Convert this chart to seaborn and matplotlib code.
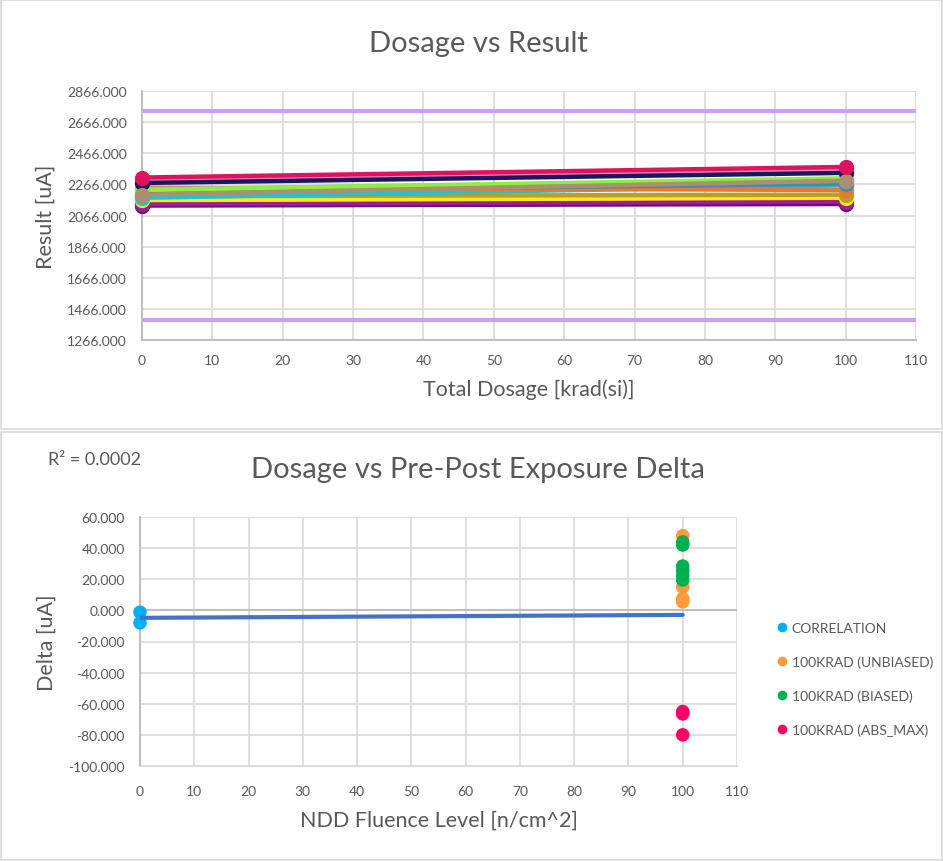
import numpy as np
import pandas as pd
import matplotlib
matplotlib.use("Agg")
import matplotlib.pyplot as plt
import seaborn as sns
from matplotlib.patches import Rectangle
from matplotlib.lines import Line2D

# ---------------- data ----------------
doses = [0, 100]
unit_names = ["U01", "U02", "U03", "U04", "U05", "U06", "U07",
              "U08", "U09", "U10", "U11", "U12", "U13"]
result_pre = [2130, 2140, 2165, 2190, 2180, 2245, 2220, 2235, 2230, 2300, 2275, 2200, 2310]
result_post = [2140, 2155, 2180, 2200, 2260, 2230, 2270, 2290, 2305, 2360, 2340, 2290, 2378]
unit_colors = ["#6E0C78", "#9C1C9C", "#FFE81A", "#B8A020", "#1EC4D4", "#E87A2C", "#3C8CB4",
               "#B4A0D8", "#8CF03C", "#F08CB4", "#1C1660", "#A89070", "#E0115F"]
upper_limit = 2736
lower_limit = 1396

groups = ["CORRELATION", "100KRAD (UNBIASED)", "100KRAD (BIASED)", "100KRAD (ABS_MAX)"]
group_colors = ["#00B0F0", "#FF9A3C", "#00B050", "#FF0066"]
corr_delta = [-1.2, -8.0]
unb_delta = [48.0, 15.0, 7.5, 5.5]
bia_delta = [44.0, 42.0, 28.5, 25.5, 22.5, 19.5]
abs_delta = [-65.0, -66.5, -80.0]
trend_intercept = -4.8
trend_slope = 0.019
r2_text = "R² = 0.0002"

# ---------------- styling ----------------
sns.set_style("white")
plt.rcParams["font.family"] = ["Lato", "DejaVu Sans"]
tick_col = "#595959"
grid_col = "#D9D9D9"
axis_col = "#BFBFBF"

fig = plt.figure(figsize=(9.43, 8.62), dpi=100)
W, H = 943, 862

def fax(l, t, r, b):
    return fig.add_axes([l / W, 1 - b / H, (r - l) / W, (b - t) / H])

# panel borders
fig.patches.append(Rectangle((1 / W, 1 - 430 / H), 941 / W, 429 / H, transform=fig.transFigure,
                             fill=False, edgecolor="#D9D9D9", linewidth=1.2))
fig.patches.append(Rectangle((1 / W, 1 / H), 941 / W, (860 - 432) / H, transform=fig.transFigure,
                             fill=False, edgecolor="#D9D9D9", linewidth=1.2))

# ---------------- top chart ----------------
ax1 = fax(142, 92, 916, 341)
rows = []
for n, a, b in zip(unit_names, result_pre, result_post):
    rows.append({"unit": n, "dose": doses[0], "result": a})
    rows.append({"unit": n, "dose": doses[1], "result": b})
df1 = pd.DataFrame(rows)
ax1.axhline(upper_limit, color="#C9A0F5", linewidth=3, zorder=2)
ax1.axhline(lower_limit, color="#C9A0F5", linewidth=3, zorder=2)
sns.lineplot(data=df1, x="dose", y="result", hue="unit", hue_order=unit_names,
             palette=dict(zip(unit_names, unit_colors)),
             marker="o", markersize=11, markeredgewidth=0, linewidth=3.2, legend=False, ax=ax1,
             zorder=3, clip_on=False)
ax1.set_xlim(0, 110)
ax1.set_ylim(1266, 2866)
ax1.set_xticks(np.arange(0, 111, 10))
ax1.set_yticks(np.arange(1266, 2867, 200))
ax1.yaxis.set_major_formatter(matplotlib.ticker.FormatStrFormatter("%.3f"))
ax1.grid(True, color=grid_col, linewidth=1.2)
ax1.set_axisbelow(True)
for s in ["top", "right"]:
    ax1.spines[s].set_visible(False)
ax1.spines["left"].set_color(axis_col)
ax1.spines["bottom"].set_color(axis_col)
ax1.spines["left"].set_linewidth(1.5)
ax1.spines["bottom"].set_linewidth(1.5)
ax1.tick_params(axis="both", length=0, labelsize=10, labelcolor=tick_col)
ax1.tick_params(axis="y", pad=11)
ax1.tick_params(axis="x", pad=10)
ax1.set_xlabel("Total Dosage [krad(si)]", fontsize=15.5, color=tick_col, labelpad=9)
ax1.set_ylabel("Result [uA]", fontsize=15.5, color=tick_col, labelpad=8)
fig.text(478 / W, 1 - 44 / H, "Dosage vs Result", ha="center", va="center", fontsize=21, color=tick_col)

# ---------------- bottom chart ----------------
ax2 = fax(140, 518, 737, 767)
rows = []
for g, vals, x in zip(groups, [corr_delta, unb_delta, bia_delta, abs_delta], [0, 100, 100, 100]):
    for v in vals:
        rows.append({"group": g, "fluence": x, "delta": v})
df2 = pd.DataFrame(rows)
ax2.axhline(0, color=axis_col, linewidth=1.5, zorder=1)
sns.scatterplot(data=df2, x="fluence", y="delta", hue="group", palette=dict(zip(groups, group_colors)),
                s=95, linewidth=0, legend=False, ax=ax2, zorder=3, clip_on=False)
tx = np.array(doses)
sns.lineplot(x=tx, y=trend_intercept + trend_slope * tx, color="#4472C4", linewidth=3, ax=ax2, zorder=4)
ax2.set_xlim(0, 110)
ax2.set_ylim(-100, 60)
ax2.set_xticks(np.arange(0, 111, 10))
ax2.set_yticks(np.arange(-100, 61, 20))
ax2.yaxis.set_major_formatter(matplotlib.ticker.FormatStrFormatter("%.3f"))
ax2.grid(True, color=grid_col, linewidth=1.2)
ax2.set_axisbelow(True)
for s in ["top", "right"]:
    ax2.spines[s].set_visible(False)
ax2.spines["left"].set_color(axis_col)
ax2.spines["bottom"].set_color(grid_col)
ax2.spines["left"].set_linewidth(1.5)
ax2.tick_params(axis="both", length=0, labelsize=10, labelcolor=tick_col)
ax2.tick_params(axis="y", pad=11)
ax2.tick_params(axis="x", pad=14)
ax2.set_xlabel("NDD Fluence Level [n/cm^2]", fontsize=15.5, color=tick_col, labelpad=9)
ax2.set_ylabel("Delta [uA]", fontsize=15.5, color=tick_col, labelpad=8)
fig.text(478 / W, 1 - 470 / H, "Dosage vs Pre-Post Exposure Delta", ha="center", va="center",
         fontsize=21, color=tick_col)
fig.text(48 / W, 1 - 460 / H, r2_text, ha="left", va="center", fontsize=13, color=tick_col)

handles = [Line2D([], [], linestyle="none", marker="o", markersize=7, markeredgewidth=0, color=c)
           for c in group_colors]
fig.legend(handles, groups, loc="upper left", bbox_to_anchor=(768 / W, 1 - 617 / H),
           frameon=False, fontsize=10, labelcolor=tick_col, handletextpad=0.1,
           labelspacing=1.55, handlelength=1.2, borderaxespad=0)

fig.savefig("out.png", dpi=100)
